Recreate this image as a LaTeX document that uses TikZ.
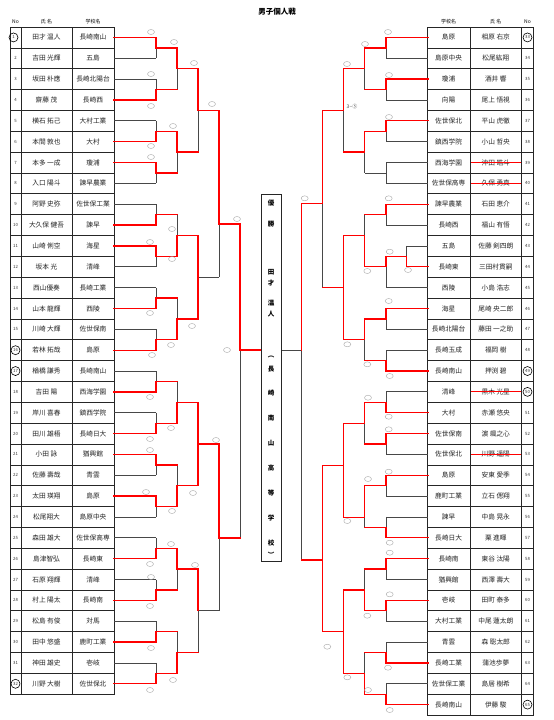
\documentclass[tikz,border=0pt]{standalone}
\usepackage{fontspec}
\newfontfamily\jp{Noto Sans CJK JP}
\usetikzlibrary{shapes.geometric}
\newcommand\HL[4]{\draw[#4] (#1,#3) -- (#2,#3);}
\newcommand\VL[4]{\draw[#4] (#1,#2) -- (#1,#3);}
\begin{document}
\begin{tikzpicture}[x=1pt,y=-1pt,
  win/.style={draw=red, line width=1.3pt, line cap=rect},
  lose/.style={draw=black!72, line width=0.8pt},
  cell/.style={font=\jp\fontsize{6.7}{6.7}\selectfont, inner sep=0pt, text=black!85},
  num/.style={font=\jp\fontsize{4.3}{4.3}\selectfont, inner sep=0pt, text=black!80},
  hdr/.style={font=\jp\fontsize{5}{5}\selectfont, inner sep=0pt},
  sc/.style={draw=black!35, ellipse, minimum width=7pt, minimum height=5pt, inner sep=0pt, line width=0.4pt},
  seed/.style={draw=black, circle, minimum size=9pt, inner sep=0pt, line width=0.6pt},
  tbl/.style={draw=black!85, line width=0.7pt},
  strike/.style={draw=red, line width=0.8pt},
  vch/.style={font=\jp\bfseries\fontsize{6.5}{6.5}\selectfont, inner sep=0pt}
]
\useasboundingbox (0,0) rectangle (554,720);
\fill[white] (0,0) rectangle (554,720);
\def\rh{20.85}
% title
\node[font=\jp\bfseries\fontsize{7.5}{7.5}\selectfont] (title) at (277,12) {男子個人戦};
% headers
\node[hdr] (hL1) at (15.5,22) {No};
\node[hdr] (hL2) at (46.5,22) {氏\ 名};
\node[hdr] (hL3) at (93,22) {学校名};
\node[hdr] (hR1) at (448.6,22) {学校名};
\node[hdr] (hR2) at (495.8,22) {氏\ 名};
\node[hdr] (hR3) at (527.5,22) {No};
% left table
\draw[tbl] (10,27) rectangle (114,{27+32*\rh});
\draw[tbl] (21,27) -- (21,{27+32*\rh}) (72,27) -- (72,{27+32*\rh});
\foreach \k in {1,...,31} {\draw[tbl] (10,{27+\k*\rh}) -- (114,{27+\k*\rh});}
\foreach \nm/\sc [count=\i] in {田才 温人/長崎南山, 吉田 光輝/五島, 坂田 朴應/長崎北陽台, 齋藤 茂/長崎西, 横石 拓己/大村工業, 本間 敦也/大村, 本多 一成/瓊浦, 入口 陽斗/諫早農業, 阿野 史弥/佐世保工業, 大久保 健吾/諫早, 山崎 俐空/海星, 坂本 光/清峰, 西山優奏/長崎工業, 山本 龍輝/西陵, 川崎 大輝/佐世保南, 若林 拓哉/島原, 楢橋 謙秀/長崎南山, 吉田 陽/西海学園, 岸川 喜春/鎮西学院, 田川 雄梧/長崎日大, 小田 詠/猶興館, 佐藤 壽哉/青雲, 太田 瑛翔/島原, 松尾翔大/島原中央, 森田 雄大/佐世保高専, 島津智弘/長崎東, 石原 翔輝/清峰, 村上 陽太/長崎南, 松島 有俊/対馬, 田中 悠盛/鹿町工業, 神田 雄史/壱岐, 川野 大樹/佐世保北}
{
  \node[cell] (ln\i) at (46.5,{27+(\i-0.5)*\rh}) {\nm};
  \node[cell] (ls\i) at (93,{27+(\i-0.5)*\rh}) {\sc};
}
\foreach \i in {2,...,15,18,19,...,31}
  {\node[num] (lno\i) at (15.5,{27+(\i-0.5)*\rh}) {\i};}
\node[num,seed] (lno1) at (13.5,{27+0.5*\rh}) {1};
\foreach \i in {16,17,32}
  {\node[num,seed] (lno\i) at (15.5,{27+(\i-0.5)*\rh}) {\i};}
% right table
\draw[tbl] (427.3,27) rectangle (533.3,{27+33*\rh});
\draw[tbl] (470,27) -- (470,{27+33*\rh}) (521.7,27) -- (521.7,{27+33*\rh});
\foreach \k in {1,...,32} {\draw[tbl] (427.3,{27+\k*\rh}) -- (533.3,{27+\k*\rh});}
\foreach \sc/\nm [count=\i from 33] in {島原/相原 右京, 島原中央/松尾紘翔, 瓊浦/酒井 響, 向陽/尾上 悟視, 佐世保北/平山 虎徹, 鎮西学院/小山 哲央, 西海学園/沖田 皓斗, 佐世保高専/久保 勇真, 諫早農業/石田 恵介, 長崎西/福山 有悟, 五島/佐藤 剣四朗, 長崎東/三田村貫嗣, 西陵/小島 浩志, 海星/尾崎 央二郎, 長崎北陽台/藤田 一之助, 長崎玉成/福岡 樹, 長崎南山/押渕 碧, 清峰/黒木 光星, 大村/赤瀬 悠央, 佐世保南/濵 颯之心, 佐世保北/川野 遥陽, 島原/安東 愛季, 鹿町工業/立石 偲翔, 諫早/中島 晃永, 長崎日大/栗 進暉, 長崎南/東谷 汰陽, 猶興館/西澤 壽大, 壱岐/田町 泰多, 大村工業/中尾 蓮太朗, 青雲/森 聡太郎, 長崎工業/蒲池歩夢, 佐世保工業/島居 樹希, 長崎南山/伊藤 駿}
{
  \node[cell] (rs\i) at (448.6,{27+(\i-32.5)*\rh}) {\sc};
  \node[cell] (rn\i) at (495.8,{27+(\i-32.5)*\rh}) {\nm};
}
\foreach \i in {34,...,48,51,52,...,64}
  {\node[num] (rno\i) at (527.5,{27+(\i-32.5)*\rh}) {\i};}
\foreach \i in {33,49,50,65}
  {\node[num,seed] (rno\i) at (527.5,{27+(\i-32.5)*\rh}) {\i};}
\foreach \i in {39,40,50,53}
  {\draw[strike] (471,{27+(\i-32.5)*\rh}) -- (520.5,{27+(\i-32.5)*\rh});}

% ===== LEFT BRACKET: gray =====
\foreach \i in {2,3,5,8,9,12,13,15,17,19,22,24,25,27,29,31}
  {\HL{114}{156}{{27+(\i-0.5)*\rh}}{lose}}
\foreach \a/\b in {47.85/58.275, 79.125/89.55, 120.825/131.25, 172.95/183.375, 204.225/214.65, 256.35/266.775, 287.625/298.05, 329.325/339.75, 371.025/381.45, 412.725/423.15, 464.85/475.275, 506.55/516.975, 537.825/548.25, 579.525/589.95, 621.225/631.65, 662.925/673.35}
  {\VL{156}{\a}{\b}{lose}}
\foreach \a/\b in {68.7/89.55, 152.1/172.95, 214.65/235.5, 298.05/318.9, 381.45/402.3, 464.85/485.7, 569.1/589.95, 631.65/652.5}
  {\VL{177}{\a}{\b}{lose}}
\VL{198}{110.4}{152.1}{lose}
\VL{198}{610.8}{652.5}{lose}
\HL{198}{219}{277.2}{lose}
\HL{198}{219}{610.8}{lose}
\VL{219}{224}{277.2}{lose}
\VL{219}{538}{610.8}{lose}
\VL{240}{350}{538}{lose}
% ===== RIGHT BRACKET: gray =====
\foreach \i in {34,36,38,39,40,42,45,47,48,50,53,55,56,59,61,62,64}
  {\HL{428}{386}{{27+(\i-32.5)*\rh}}{lose}}
\HL{428}{406.5}{245.925}{lose}
\VL{406.5}{245.925}{256.35}{lose}
\foreach \a/\b in {47.85/58.275, 89.55/99.975, 131.25/141.675, 162.525/183.375, 214.65/225.075, 266.7/287.625, 318.9/329.325, 350.175/360.6, 391.875/402.3, 444/454.425, 485.7/496.125, 516.975/527.4, 569.1/579.525, 610.8/621.225, 642.075/652.5, 683.775/694.2}
  {\VL{386}{\a}{\b}{lose}}
\HL{386}{364.5}{172.95}{lose}
\foreach \a/\b in {68.7/89.55, 152.1/172.95, 214.65/235.7, 339.75/360.6, 423.15/444, 517.7/527.4, 569.1/589.95, 652.5/673.35}
  {\VL{364.5}{\a}{\b}{lose}}
\VL{343.5}{110.4}{152.1}{lose}
\VL{322.5}{203.3}{287.7}{lose}
\VL{301.7}{350.5}{560}{lose}
\HL{301.7}{281}{350.5}{lose}

% ===== LEFT BRACKET: red =====
\foreach \i in {1,4,6,7,10,11,14,16,18,20,21,23,26,28,30,32}
  {\HL{114}{156}{{27+(\i-0.5)*\rh}}{win}}
\foreach \a/\b in {37.425/47.85, 89.55/99.975, 131.25/141.675, 162.525/172.95, 214.65/225.075, 245.925/256.35, 298.05/308.475, 339.75/350.175, 381.45/391.875, 423.15/433.575, 454.425/464.85, 496.125/506.55, 548.25/558.675, 589.95/600.375, 631.65/642.075, 673.35/683.775}
  {\VL{156}{\a}{\b}{win}}
\foreach \y in {47.85,89.55,131.25,172.95,214.65,256.35,298.05,339.75,381.45,423.15,464.85,506.55,548.25,589.95,631.65,673.35}
  {\HL{156}{177}{\y}{win}}
\foreach \a/\b in {47.85/68.7, 131.25/152.1, 235.5/256.35, 318.9/339.75, 402.3/423.15, 485.7/506.55, 548.25/569.1, 652.5/673.35}
  {\VL{177}{\a}{\b}{win}}
\foreach \y in {68.7,152.1,235.5,318.9,402.3,485.7,569.1,652.5}
  {\HL{177}{198}{\y}{win}}
\VL{198}{68.7}{110.4}{win}
\VL{198}{235.5}{318.9}{win}
\VL{198}{402.3}{485.7}{win}
\VL{198}{569.1}{610.8}{win}
\HL{198}{219}{110.4}{win}
\HL{198}{219}{444}{win}
\VL{219}{110.4}{224}{win}
\VL{219}{444}{538}{win}
\HL{219}{240}{224}{win}
\HL{219}{240}{538}{win}
\VL{240}{224}{350}{win}
\HL{240}{261}{350}{win}
% ===== RIGHT BRACKET: red =====
\foreach \i in {33,35,37,41,46,49,51,52,54,57,58,60,63,65}
  {\HL{428}{386}{{27+(\i-32.5)*\rh}}{win}}
\HL{428}{406.5}{266.775}{win}
\VL{406.5}{256.35}{266.775}{win}
\HL{406.5}{386}{256.35}{win}
\foreach \a/\b in {37.425/47.85, 79.125/89.55, 120.825/131.25, 204.225/214.65, 256.35/266.7, 308.475/318.9, 360.6/371.025, 402.3/412.725, 433.575/444, 475.275/485.7, 527.4/537.825, 558.675/569.1, 600.375/610.8, 652.5/662.925, 694.2/704.625}
  {\VL{386}{\a}{\b}{win}}
\foreach \y in {47.85,89.55,131.25,214.65,266.7,318.9,360.6,402.3,444,485.7,527.4,569.1,610.8,652.5,694.2}
  {\HL{386}{364.5}{\y}{win}}
\foreach \a/\b in {47.85/68.7, 131.25/152.1, 235.7/266.7, 318.9/339.75, 402.3/423.15, 485.7/517.7, 589.95/610.8, 673.35/694.2}
  {\VL{364.5}{\a}{\b}{win}}
\foreach \y in {68.7,152.1,235.7,339.75,423.15,517.7,589.95,673.35}
  {\HL{364.5}{343.5}{\y}{win}}
\foreach \a/\b in {68.7/110.4, 235.7/339.75, 423.15/517.7, 589.95/673.35}
  {\VL{343.5}{\a}{\b}{win}}
\foreach \y in {110.4,287.7,465.7,631.65}
  {\HL{343.5}{322.5}{\y}{win}}
\VL{322.5}{110.4}{203.3}{win}
\VL{322.5}{465.7}{631.65}{win}
\HL{322.5}{301.7}{203.3}{win}
\HL{322.5}{301.7}{560}{win}
\VL{301.7}{203.3}{350.5}{win}

% ===== champion box =====
\draw[tbl] (261,194) rectangle (281,561);
\foreach \c/\y [count=\n] in {優/203, 勝/224, 田/272, 才/283, 温/303, 人/314, ︵/357, 長/369, 崎/393, 南/418, 山/443, 高/468, 等/493, 学/518, 校/543, ︶/555}
  {\node[vch] (ch\n) at (271,\y) {\c};}
\node[font=\jp\fontsize{5}{5}\selectfont, text=black!70] (lab35) at (352,107) {3−⑤};

% ===== score marks =====
\foreach \x/\y [count=\n] in {151/32, 174/42, 194/63, 212/104, 151/74, 151/106, 173/126, 151/146, 151/157, 172/229, 150/242, 172/259, 150/313, 192/326, 171/345, 152/355, 237/219, 227/350, 150/397, 171/428, 150/439, 150/450, 193/493, 172/511, 146/492, 171/544, 195/565, 150/564, 151/577, 150/606, 151/648, 173/680, 150/690, 216/440, 388/32, 365/44, 347/64, 389/75, 389/117, 304.7/198.3, 388.7/198.3, 389.7/251.7, 408/270, 367.3/271, 388.7/301, 347.3/344.3, 367.3/364.3, 389.7/376, 368/397.7, 388.7/416.7, 388.7/429.3, 368/479, 388.7/471.7, 347.3/521, 389.7/542.7, 389.7/552.7, 389.7/594.3, 367.3/615.7, 327.3/646.7, 347.3/677.3, 388/667.7, 368/690, 389.7/710}
  {\node[sc] (s\n) at (\x,\y) {};}
\end{tikzpicture}
\end{document}
